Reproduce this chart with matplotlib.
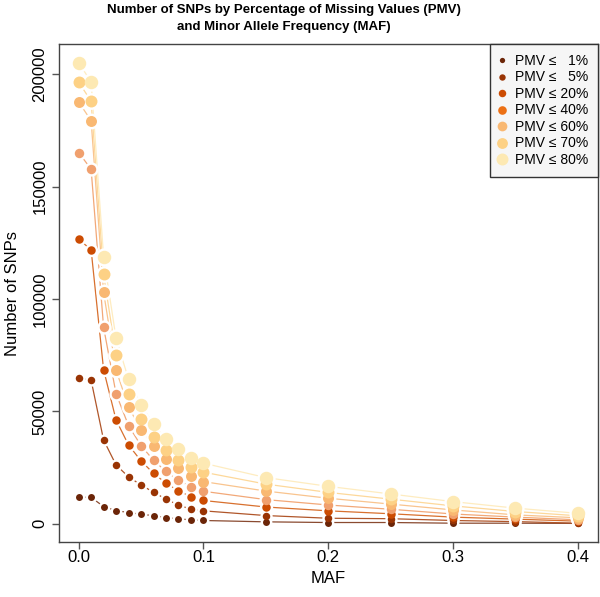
import matplotlib.pyplot as plt
from matplotlib.lines import Line2D

#minor allele frequency thresholds
maf = [0.0, 0.01, 0.02, 0.03, 0.04, 0.05, 0.06, 0.07, 0.08, 0.09, 0.10,
       0.15, 0.20, 0.25, 0.30, 0.35, 0.40]

#number of SNPs for each PMV threshold
pmv1 = [11900, 11800, 7700, 5900, 5000, 4300, 3600, 2800, 2200, 1800, 1500,
        900, 600, 600, 300, 300, 200]
pmv5 = [64900, 63900, 37300, 26200, 20900, 17300, 14100, 11000, 8400, 6500, 5800,
        3700, 2500, 2300, 1500, 1000, 300]
pmv20 = [126700, 121900, 68600, 46200, 35100, 28000, 22500, 18100, 14700, 12100, 10400,
         7500, 5800, 4500, 3000, 2100, 1200]
pmv40 = [165200, 157800, 87400, 57900, 43700, 34800, 28300, 23300, 19300, 16600, 14500,
         10800, 8400, 6500, 4400, 3000, 1800]
pmv60 = [187700, 179400, 103000, 68400, 52000, 41800, 34800, 29000, 24700, 21500, 18800,
         14600, 11400, 8800, 6200, 4000, 2700]
pmv70 = [196600, 188000, 111000, 75000, 57600, 46700, 38800, 32900, 28400, 25500, 23000,
         17700, 14000, 11000, 8000, 5500, 3600]
pmv80 = [205200, 196600, 118800, 82500, 64300, 52900, 44300, 37800, 33200, 29500, 27000,
         20600, 16700, 13300, 9900, 7000, 4700]

labels = ["PMV \u2264   1%", "PMV \u2264   5%", "PMV \u2264 20%", "PMV \u2264 40%",
          "PMV \u2264 60%", "PMV \u2264 70%", "PMV \u2264 80%"]
series = [pmv1, pmv5, pmv20, pmv40, pmv60, pmv70, pmv80]

point_colors = ["#6b2508", "#993404", "#cc4c02", "#f0a06e", "#f9b872", "#fdd185", "#fde9b3"]
legend_colors = ["#6b2508", "#993404", "#cc4c02", "#ec7014", "#f9b872", "#fdd185", "#fde9b3"]
line_colors = ["#8a4a30", "#b0562a", "#d8702e", "#f2a878", "#f9c48e", "#fdd89a", "#feecc0"]
sizes = [5.0, 5.4, 6.1, 6.8, 7.9, 8.6, 9.7]

plt.rcParams['font.family'] = ['Liberation Sans', 'DejaVu Sans']

fig = plt.figure(figsize=(6.0, 5.97), dpi=100)
ax = fig.add_axes([0.0978, 0.0916, 0.8983, 0.8344])

#lines first, then white halos so lines stop short of the points (like R type="b")
for vals, lc in zip(series, line_colors):
    ax.plot(maf, vals, color=lc, lw=0.9, zorder=1)
for vals, s in zip(series, sizes):
    ax.plot(maf, vals, ls='none', marker='o', ms=s + 3.5, mfc='white', mec='none', zorder=2)
for vals, pc, s in zip(series, point_colors, sizes):
    ax.plot(maf, vals, ls='none', marker='o', ms=s, mfc=pc, mec='none', zorder=3)

ax.set_xlim(-0.016, 0.416)
ax.set_ylim(-8208, 213408)
ax.set_xticks([0.0, 0.1, 0.2, 0.3, 0.4])
ax.set_xticklabels(["0.0", "0.1", "0.2", "0.3", "0.4"])
ax.set_yticks([0, 50000, 100000, 150000, 200000])
ax.set_yticklabels(["0", "50000", "100000", "150000", "200000"], rotation=90, va='center')

for sp in ax.spines.values():
    sp.set_color('#444444')
    sp.set_linewidth(1.0)
ax.tick_params(axis='both', direction='out', length=5.2, width=1.0, color='#555555',
               labelsize=12, labelcolor='black')
ax.tick_params(axis='x', pad=0)
ax.tick_params(axis='y', pad=3)

ax.set_xlabel("MAF", fontsize=12)
ax.set_ylabel("Number of SNPs", fontsize=12)
ax.xaxis.label.set_va('center')
ax.yaxis.label.set_va('center')
ax.xaxis.set_label_coords(0.5, -0.0717)
ax.yaxis.set_label_coords(-0.0866, 0.5)

handles = [Line2D([], [], ls='none', marker='o', ms=3.8 + 0.8 * i, mfc=c, mec='none')
           for i, c in enumerate(legend_colors)]
leg = ax.legend(handles, labels, loc='upper right', bbox_to_anchor=(1, 1),
                borderaxespad=0, fancybox=False, fontsize=10, labelspacing=0.18,
                handletextpad=0.77, handlelength=0.33, borderpad=0.7,
                frameon=True, framealpha=1)
leg.get_frame().set_facecolor('#f6f6f6')
leg.get_frame().set_edgecolor('#333333')
leg.get_frame().set_linewidth(1.0)

fig.text(0.473, 0.993, "Number of SNPs by Percentage of Missing Values (PMV)\nand Minor Allele Frequency (MAF)",
         ha='center', va='top', fontsize=9.5, fontweight='bold', linespacing=1.5)

fig.savefig("out.png", dpi=100)
